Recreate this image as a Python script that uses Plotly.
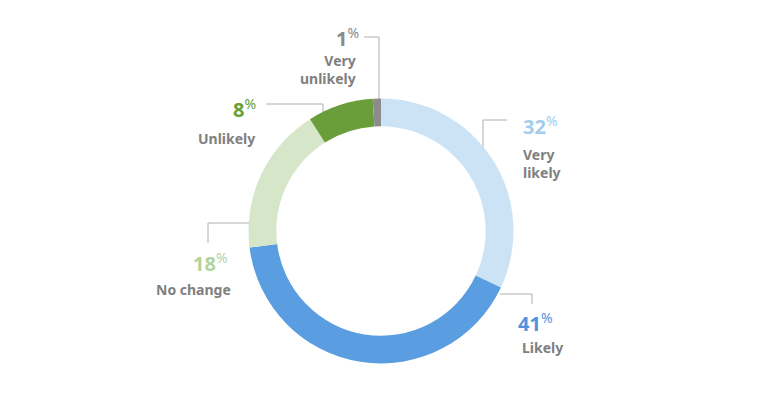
import plotly.graph_objects as go

# ---- data ----
categories = ["Very likely", "Likely", "No change", "Unlikely", "Very unlikely"]
values = [32, 41, 18, 8, 1]
label_lines = ["Very<br>likely", "Likely", "No change", "Unlikely", "Very<br>unlikely"]

# ---- style ----
slice_colors = ["#cbe3f5", "#5a9de0", "#d6e7c9", "#6a9e3a", "#8c8c8c"]
pct_colors = ["#a3cdee", "#4f93dc", "#b3d39d", "#65a035", "#8a8a8a"]
text_gray = "#808080"
line_gray = "#b0b0b0"
W, H = 777, 398
FONT = "Noto Sans"

# pixel -> paper helpers
def px(x):
    return x / W

def py(y):
    return 1 - y / H

# label placement (pixels): number anchor, label anchor, alignment
placements = [
    dict(nx=521, ny=126, lx=521, ly=163, xa="left"),     # Very likely
    dict(nx=516, ny=322, lx=520, ly=347, xa="left"),     # Likely
    dict(nx=230, ny=262, lx=233, ly=289, xa="right"),    # No change
    dict(nx=258, ny=108, lx=257, ly=138, xa="right"),    # Unlikely
    dict(nx=361, ny=37, lx=358, ly=69, xa="right"),      # Very unlikely
]
# leader lines (pixel polylines)
leaders = [
    [(507, 120), (483, 120), (483, 160)],
    [(500, 294), (532, 294), (532, 304)],
    [(261, 223), (208, 223), (208, 243)],
    [(266, 104), (323, 104), (323, 143)],
    [(364, 37), (379, 37), (379, 125)],
]

cx, cy, R = 381, 231, 132.5

fig = go.Figure(go.Pie(
    labels=categories,
    values=values,
    hole=0.79,
    sort=False,
    direction="clockwise",
    rotation=0,
    marker=dict(colors=slice_colors, line=dict(width=0)),
    textinfo="none",
    hoverinfo="label+percent",
    showlegend=False,
    domain=dict(x=[px(cx - R), px(cx + R)], y=[py(cy + R), py(cy - R)]),
))

shapes = []
for pts in leaders:
    path = "M " + " L ".join(f"{px(x)},{py(y)}" for x, y in pts)
    shapes.append(dict(type="path", xref="paper", yref="paper", path=path,
                       line=dict(color=line_gray, width=1), layer="below"))

annotations = []
for v, lab, col, p in zip(values, label_lines, pct_colors, placements):
    annotations.append(dict(
        x=px(p["nx"]), y=py(p["ny"]), xref="paper", yref="paper",
        xanchor=p["xa"], yanchor="middle", showarrow=False,
        text=f"<b>{v}</b><sup><span style='font-size:14px'>%</span></sup>",
        font=dict(family=FONT, size=20, color=col),
    ))
    annotations.append(dict(
        x=px(p["lx"]), y=py(p["ly"]), xref="paper", yref="paper",
        xanchor=p["xa"], yanchor="middle", showarrow=False, align=p["xa"],
        text=f"<b>{lab}</b>",
        font=dict(family=FONT, size=14, color=text_gray),
    ))

fig.update_layout(
    width=W, height=H,
    margin=dict(l=0, r=0, t=0, b=0),
    paper_bgcolor="white", plot_bgcolor="white",
    shapes=shapes, annotations=annotations,
)

fig.write_html("out.html", config={"displayModeBar": False},
               post_script="document.body.style.margin='0';document.body.style.padding='0';")
